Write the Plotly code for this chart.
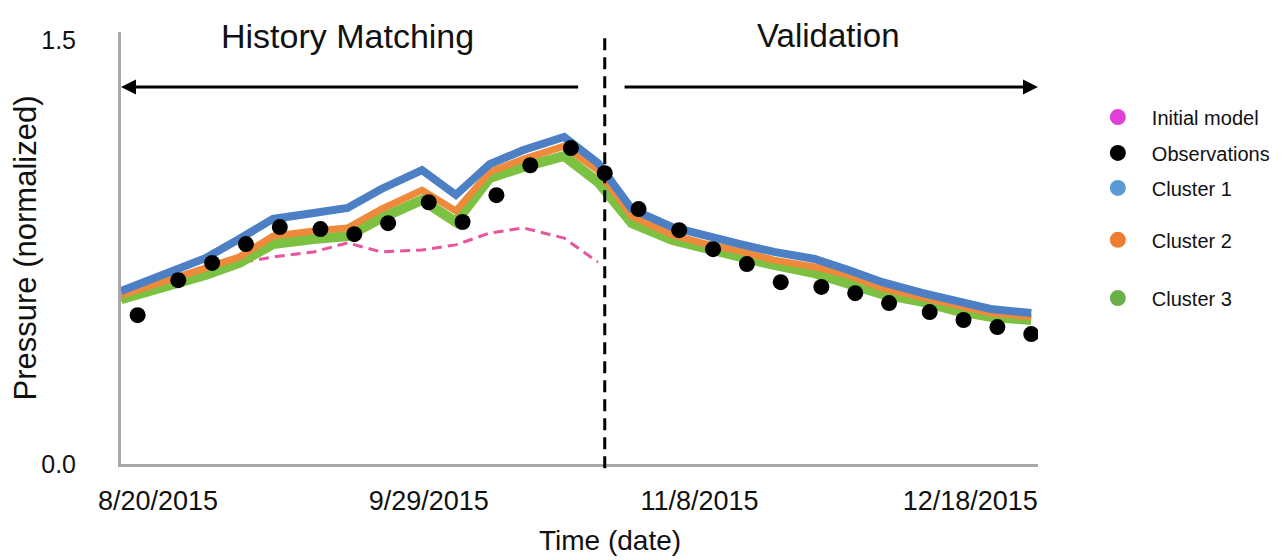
import plotly.graph_objects as go

# ---------------- data ----------------
obs_dates = ['2015-08-17', '2015-08-23', '2015-08-28', '2015-09-02', '2015-09-07',
             '2015-09-13', '2015-09-18', '2015-09-23', '2015-09-29', '2015-10-04',
             '2015-10-09', '2015-10-14', '2015-10-20', '2015-10-25', '2015-10-30',
             '2015-11-05', '2015-11-10', '2015-11-15', '2015-11-20', '2015-11-26',
             '2015-12-01', '2015-12-06', '2015-12-12', '2015-12-17', '2015-12-22',
             '2015-12-27']
observations = [0.527, 0.651, 0.712, 0.779, 0.839, 0.832, 0.814, 0.853, 0.927, 0.857,
                0.952, 1.058, 1.119, 1.030, 0.903, 0.828, 0.761, 0.708, 0.644, 0.627,
                0.605, 0.570, 0.538, 0.510, 0.485, 0.460]

sim_dates = ['2015-08-14 13:00', '2015-08-22', '2015-08-27', '2015-09-01', '2015-09-06',
             '2015-09-12', '2015-09-17', '2015-09-22', '2015-09-28', '2015-10-03',
             '2015-10-08', '2015-10-13', '2015-10-19', '2015-10-24', '2015-10-29',
             '2015-11-04', '2015-11-09', '2015-11-14', '2015-11-19', '2015-11-25',
             '2015-11-30', '2015-12-05', '2015-12-11', '2015-12-16', '2015-12-21',
             '2015-12-27']
cluster1 = [0.613, 0.680, 0.729, 0.797, 0.868, 0.889, 0.907, 0.974, 1.041, 0.953,
            1.062, 1.112, 1.158, 1.066, 0.903, 0.839, 0.807, 0.779, 0.751, 0.726,
            0.687, 0.644, 0.605, 0.574, 0.549, 0.535]
cluster2 = [0.598, 0.652, 0.694, 0.733, 0.807, 0.825, 0.836, 0.903, 0.970, 0.896,
            1.034, 1.080, 1.126, 1.041, 0.878, 0.811, 0.779, 0.754, 0.722, 0.698,
            0.669, 0.623, 0.591, 0.559, 0.535, 0.521]
cluster3 = [0.584, 0.630, 0.669, 0.712, 0.779, 0.797, 0.807, 0.871, 0.935, 0.857,
            1.013, 1.052, 1.091, 0.999, 0.853, 0.793, 0.761, 0.733, 0.705, 0.676,
            0.641, 0.602, 0.574, 0.542, 0.521, 0.510]

initial_dates = sim_dates[:14]
initial_model = [0.581, 0.634, 0.676, 0.712, 0.733, 0.751, 0.783, 0.751, 0.758, 0.776,
                 0.818, 0.836, 0.800, 0.715]

tick_dates = ['2015-08-20', '2015-09-29', '2015-11-08', '2015-12-18']
tick_labels = ['8/20/2015', '9/29/2015', '11/8/2015', '12/18/2015']
y_ticks = [0.0, 1.5]
y_tick_labels = ['0.0', '1.5']

split_date = '2015-10-25'
x_range = ['2015-08-14 13:00', '2015-12-28 00:00']
y_range = [0, 1.53]

legend_names = ['Initial model', 'Observations', 'Cluster 1', 'Cluster 2', 'Cluster 3']
legend_colors = ['#E040D8', '#000000', '#5B9BD5', '#ED7D31', '#6AAF48']

# ---------------- styles ----------------
FONT = 'Liberation Sans, Arial, sans-serif'
TXT = '#111111'
C_BLUE = '#4C7FC4'
C_ORANGE = '#EE8A3C'
C_GREEN = '#7CC142'
C_PINK = '#E8559E'

fig = go.Figure()

fig.add_trace(go.Scatter(x=initial_dates, y=initial_model, mode='lines',
                         line=dict(color=C_PINK, width=3, dash='10px,6px'),
                         showlegend=False, hoverinfo='skip'))
fig.add_trace(go.Scatter(x=sim_dates, y=cluster3, mode='lines',
                         line=dict(color=C_GREEN, width=10), showlegend=False))
fig.add_trace(go.Scatter(x=sim_dates, y=cluster2, mode='lines',
                         line=dict(color=C_ORANGE, width=7), showlegend=False))
fig.add_trace(go.Scatter(x=sim_dates, y=cluster1, mode='lines',
                         line=dict(color=C_BLUE, width=8), showlegend=False))
fig.add_trace(go.Scatter(x=obs_dates, y=observations, mode='markers',
                         marker=dict(color='black', size=16), showlegend=False))

# legend entries (circle swatches), each in its own legend box for free placement
legend_ids = ['legend', 'legend2', 'legend3', 'legend4', 'legend5']
for name, col, lid in zip(legend_names, legend_colors, legend_ids):
    fig.add_trace(go.Scatter(x=[None], y=[None], mode='markers', name=name,
                             marker=dict(color=col, size=17), legend=lid))

legend_y = {'legend': 0.803, 'legend2': 0.720, 'legend3': 0.639,
            'legend4': 0.519, 'legend5': 0.384}
legend_layout = {}
for lid in legend_ids:
    legend_layout[lid] = dict(x=1.050, y=legend_y[lid], xanchor='left', yanchor='middle',
                              bgcolor='rgba(0,0,0,0)', borderwidth=0,
                              font=dict(family=FONT, size=20, color=TXT),
                              itemwidth=58)

# vertical split line
fig.add_shape(type='line', xref='x', yref='paper', x0=split_date, x1=split_date,
              y0=-0.01, y1=1.0, line=dict(color='black', width=3, dash='12px,7px'))

# arrows
fig.add_annotation(x=x_range[0], y=1.335, ax='2015-10-21 07:00', ay=1.335,
                   xref='x', yref='y', axref='x', ayref='y', text='',
                   showarrow=True, arrowhead=2, arrowsize=1, arrowwidth=3,
                   arrowcolor='black')
fig.add_annotation(x=x_range[1], y=1.335, ax='2015-10-27 17:00', ay=1.335,
                   xref='x', yref='y', axref='x', ayref='y', text='',
                   showarrow=True, arrowhead=2, arrowsize=1, arrowwidth=3,
                   arrowcolor='black')

fig.add_annotation(x=0.2475, y=0.991, xref='paper', yref='paper', text='History Matching',
                   showarrow=False, xanchor='center', yanchor='middle',
                   font=dict(family=FONT, size=34, color=TXT))
fig.add_annotation(x=0.771, y=0.991, xref='paper', yref='paper', text='Validation',
                   showarrow=False, xanchor='center', yanchor='middle',
                   font=dict(family=FONT, size=33, color=TXT))

# x-axis title (sits right of the plot centre in the original)
fig.add_annotation(x=0.533, y=-0.176, xref='paper', yref='paper', text='Time (date)',
                   showarrow=False, xanchor='center', yanchor='middle',
                   font=dict(family=FONT, size=28, color=TXT))

# page body has an 8px margin, so the figure is 8px smaller than the window
fig.update_layout(
    width=1277, height=552,
    margin=dict(l=113, r=247, t=24, b=96, autoexpand=False),
    paper_bgcolor='white', plot_bgcolor='white',
    font=dict(family=FONT, color=TXT),
    xaxis=dict(type='date', range=x_range, tickvals=tick_dates, ticktext=tick_labels,
               showgrid=False, zeroline=False, showline=True, linecolor='#A8A8A8',
               linewidth=3, ticks='', ticklabelstandoff=11, automargin=False,
               tickfont=dict(family=FONT, size=27, color=TXT)),
    yaxis=dict(range=y_range, tickvals=y_ticks, ticktext=y_tick_labels,
               showgrid=False, zeroline=False, showline=True, linecolor='#A8A8A8',
               linewidth=3, ticks='', ticklabelstandoff=37, automargin=False,
               tickfont=dict(family=FONT, size=25, color=TXT),
               title=dict(text='Pressure (normalized)',
                          font=dict(family=FONT, size=31, color=TXT), standoff=18)),
    **legend_layout,
)

fig.write_html('out.html')
